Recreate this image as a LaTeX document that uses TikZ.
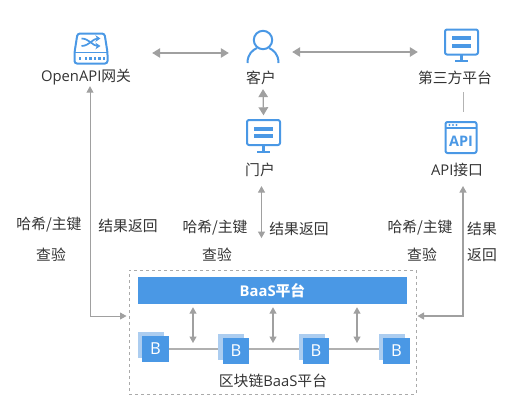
\documentclass[tikz,border=0pt]{standalone}
\usepackage{fontspec}
\usepackage{xcolor}
\usepackage{tikz}
\usetikzlibrary{arrows.meta, positioning, calc, backgrounds}
\setmainfont{Open Sans}
\newfontfamily\cjk{Noto Sans CJK SC}
\definecolor{myblue}{RGB}{74,152,229}
\definecolor{mylight}{RGB}{172,205,240}
\definecolor{mygray}{RGB}{160,160,160}
\definecolor{mychain}{RGB}{176,176,176}
\definecolor{mydash}{RGB}{170,170,170}
\definecolor{mytext}{RGB}{51,51,51}
\tikzset{
  iconbox/.style={rectangle, minimum width=34pt, minimum height=34pt, inner sep=0pt},
  label/.style={font=\fontsize{14.8}{16}\selectfont, text=mytext, inner sep=1pt},
  bigarrow/.style={{Triangle[length=8pt,width=9.5pt]}-{Triangle[length=8pt,width=9.5pt]}, line width=1.3pt, color=mygray},
  smallarrow/.style={{Triangle[length=6.5pt,width=7pt]}-{Triangle[length=6.5pt,width=7pt]}, line width=1.2pt, color=mygray},
  thinarrow/.style={smallarrow, line width=0.9pt},
  plainline/.style={line width=1pt, color=mygray!80},
  chainline/.style={line width=1.5pt, color=mychain},
  frame/.style={rectangle, draw=mydash, dashed, line width=1pt, minimum width=287pt, minimum height=124pt},
  bar/.style={rectangle, fill=myblue, text=white, minimum width=269pt, minimum height=27pt,
    font=\fontsize{14.8}{16}\selectfont\bfseries},
  backblock/.style={rectangle, fill=mylight, minimum size=26pt, inner sep=0pt},
  frontblock/.style={rectangle, fill=myblue, text=white, minimum size=26.5pt, inner sep=0pt,
    font=\fontsize{16.5}{17}\selectfont},
  iconline/.style={draw=myblue, line width=2pt, line join=round},
  monitor/.pic={
    \draw[iconline, rounded corners=2pt] (-16.5,-15.5) rectangle (16.5,9.5);
    \fill[myblue] (-9.5,-9) rectangle (9.5,-5);
    \fill[myblue] (-9.5,-1.5) rectangle (9.5,2.5);
    \draw[iconline, line width=2.5pt] (0,10) -- (0,15.5);
    \draw[iconline] (-6.5,16) -- (6.5,16);
  },
  person/.pic={
    \draw[iconline] (0,-6.5) circle (9.2);
    \draw[iconline] (-15.5,16.5) .. controls (-15.5,7) and (-10,3.5) .. (-6,1.5);
    \draw[iconline] (15.5,16.5) .. controls (15.5,7) and (10,3.5) .. (6,1.5);
  },
  apibox/.pic={
    \draw[iconline, rounded corners=2pt] (-15.5,-15.5) rectangle (15.5,15.5);
    \draw[iconline, line width=1.5pt] (-15.5,-9.5) -- (15.5,-9.5);
    \foreach \dotx in {-11.5,-8,-4.5} \fill[myblue] (\dotx,-12.5) circle (1.1);
    \node[text=myblue, inner sep=0pt, font=\fontsize{14.5}{15}\selectfont\bfseries] at (0,3.5) {API};
  },
  gatebox/.pic={
    \draw[iconline, rounded corners=2.5pt] (-13.5,-15) -- (13.5,-15) -- (16.5,4) -- (16.5,15) -- (-16.5,15) -- (-16.5,4) -- cycle;
    \draw[iconline, line width=1.5pt] (-16.5,4) -- (16.5,4);
    \foreach \dotx in {-12.5,-6.5,-2,2.5,7,11.5} \fill[myblue] (\dotx,8) rectangle ++(2.8,3);
    \draw[myblue, line width=1.7pt, -{Stealth[length=5pt,width=6.5pt]}] (-9.5,-10) .. controls (-2,-10) and (2,-2.5) .. (9.5,-2.5);
    \draw[myblue, line width=1.7pt, -{Stealth[length=5pt,width=6.5pt]}] (-9.5,-2.5) .. controls (-2,-2.5) and (2,-10) .. (9.5,-10);
  }
}
\begin{document}
\begin{tikzpicture}[x=1pt, y=-1pt]
  \useasboundingbox (0,0) rectangle (513,408);
  \node[iconbox] (gateway)  at (91,48.5)   {};
  \node[iconbox] (client)   at (263,46.5)  {};
  \node[iconbox] (third)    at (461.5,45)  {};
  \node[iconbox] (portal)   at (263.5,135.5) {};
  \node[iconbox] (api)      at (461,137.5) {};
  \pic at (gateway) {gatebox};
  \pic at (client)  {person};
  \pic at (third)   {monitor};
  \pic at (portal)  {monitor};
  \pic at (api)     {apibox};
  \node[label] (gatewaytxt) at (86,77)   {OpenAPI{\cjk 网关}};
  \node[label] (clienttxt)  at (261,78)  {\cjk 客户};
  \node[label] (thirdtxt)   at (455,78)  {\cjk 第三方平台};
  \node[label] (portaltxt)  at (260,170) {\cjk 门户};
  \node[label] (apitxt)     at (457,170) {API{\cjk 接口}};
  \node[frame] (baasframe) at (272.5,332) {};
  \node[bar]   (baas)      at (272.5,290.5) {BaaS{\cjk 平台}};
  \node[label] (chaintxt)  at (273,381) {{\cjk 区块链}BaaS{\cjk 平台}};
  \foreach \i/\bx/\by in {1/151/344.5, 2/231/347, 3/312/347, 4/392/347} {
    \node[backblock]  (back\i)  at (\bx,\by) {};
  }
  \foreach \i/\bx/\by in {1/155.5/349, 2/236/351, 3/316/351, 4/396.5/351} {
    \node[frontblock] (blk\i) at (\bx,\by) {B};
  }
  \begin{scope}[on background layer]
    \draw[chainline] ([yshift=2pt]blk2.center -| blk1.east) -- ([yshift=2pt]blk2.center -| back4.west);
  \end{scope}
  \coordinate (gatein) at ([yshift=16pt]baasframe.west);
  \coordinate (apiin)  at ([yshift=16pt]baasframe.east);
  \coordinate (chain1) at (193,349);
  \coordinate (chain2) at (273,349);
  \coordinate (chain3) at (357,349);
  \draw[bigarrow] ([xshift=44pt,yshift=-4.5pt]gateway.east) -- ([xshift=-17pt,yshift=-6.5pt]client.west);
  \draw[bigarrow] ([xshift=12pt,yshift=-5.5pt]client.east) -- ([xshift=-26.5pt,yshift=-7pt]third.west);
  \draw[bigarrow] ([yshift=-3pt]clienttxt.south -| client) -- ([yshift=3pt]portal.north);
  \draw[plainline] ([xshift=1.5pt,yshift=-6pt]thirdtxt.south -| third) -- ([xshift=2pt,yshift=8pt]api.north);
  \draw[thinarrow] ([xshift=4pt]gatewaytxt.south) |- ([xshift=-2pt]gatein);
  \draw[smallarrow] ([xshift=2pt,yshift=-8pt]apitxt.south -| api) |- ([xshift=1pt]apiin);
  \draw[thinarrow] ([xshift=1.5pt,yshift=-8pt]portaltxt.south) -- ([xshift=1.5pt,yshift=-60pt]portaltxt.south);
  \foreach \j in {1,2,3} {
    \draw[smallarrow] ([yshift=-3pt]baas.south -| chain\j) -- ([yshift=6pt]chain\j);
  }
  \node[label] (hash1)   at (49,225)  {\cjk 哈希/主键};
  \node[label] (check1)  at (51,255)  {\cjk 查验};
  \node[label] (ret1)    at (128,226) {\cjk 结果返回};
  \node[label] (hash2)   at (215,228) {\cjk 哈希/主键};
  \node[label] (check2)  at (217,255) {\cjk 查验};
  \node[label] (ret2)    at (299,229) {\cjk 结果返回};
  \node[label] (hash3)   at (420,228) {\cjk 哈希/主键};
  \node[label] (check3)  at (422,255) {\cjk 查验};
  \node[label] (ret3)    at (482,229) {\cjk 结果};
  \node[label] (ret4)    at (482,255) {\cjk 返回};
\end{tikzpicture}
\end{document}
